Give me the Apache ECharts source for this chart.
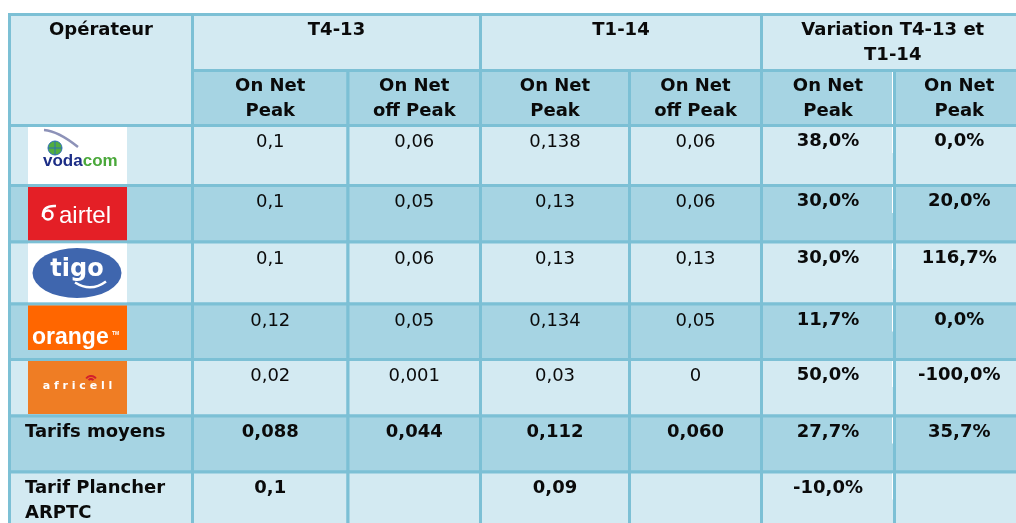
<!DOCTYPE html>
<html lang="fr">
<head>
<meta charset="UTF-8">
<title>tarifs_on_net</title>
<script src="https://cdn.jsdelivr.net/npm/echarts@6/dist/echarts.min.js"></script>
<style>
    html,body{margin:0;padding:0;background:#fff}
    #main{width:1016px;height:523px}
</style>
</head>
<body>
<div id="main"></div>
<script>
// données du tableau
var operateurs = ['vodacom', 'airtel', 'tigo', 'orange', 'africell'];
var groupes = ['T4-13', 'T1-14', 'Variation T4-13 et\nT1-14'];
var sousTitres = ['On Net\nPeak', 'On Net\noff Peak', 'On Net\nPeak', 'On Net\noff Peak', 'On Net\nPeak', 'On Net\nPeak'];
var t413_peak = [0.1, 0.1, 0.1, 0.12, 0.02];
var t413_offpeak = [0.06, 0.05, 0.06, 0.05, 0.001];
var t114_peak = [0.138, 0.13, 0.13, 0.134, 0.03];
var t114_offpeak = [0.06, 0.06, 0.13, 0.05, 0];
var var_peak = [38.0, 30.0, 30.0, 11.7, 50.0];
var var_offpeak = [0.0, 20.0, 116.7, 0.0, -100.0];
var tarifs_moyens = [0.088, 0.044, 0.112, 0.060, 27.7, 35.7];
var plancher_arptc = [0.1, null, 0.09, null, -10.0, null];
var lignesBas = ['Tarifs moyens', 'Tarif Plancher\nARPTC'];

// mise en page (bords des colonnes / lignes, en px)
var colX = [9.5, 192.5, 348, 480.5, 629.5, 761.5, 894.5, 1024];
var rowY = [14.5, 70.5, 125.5, 185.5, 242, 304, 359.5, 416, 472, 530];
var CLAIR = '#d3eaf2', FONCE = '#a6d4e3', TRAIT = '#7cc0d5';
var POLICE = '"DejaVu Sans", Verdana, sans-serif';

function virgule(v) { return String(v).replace('.', ','); }
function pct(v) { return v.toFixed(1).replace('.', ',') + '%'; }

var cells = [];
cells.push({c0: 0, c1: 1, r0: 0, r1: 2, fill: CLAIR, text: 'Opérateur', bold: true});
groupes.forEach(function (g, i) {
    cells.push({c0: 1 + 2 * i, c1: 3 + 2 * i, r0: 0, r1: 1, fill: CLAIR, text: g, bold: true});
});
sousTitres.forEach(function (s, i) {
    cells.push({c0: 1 + i, c1: 2 + i, r0: 1, r1: 2, fill: FONCE, text: s, bold: true, trait: i === 4});
});
operateurs.forEach(function (op, i) {
    var f = i % 2 ? FONCE : CLAIR, r = 2 + i;
    var vals = [virgule(t413_peak[i]), virgule(t413_offpeak[i]), virgule(t114_peak[i]),
        virgule(t114_offpeak[i]), pct(var_peak[i]), pct(var_offpeak[i])];
    cells.push({c0: 0, c1: 1, r0: r, r1: r + 1, fill: f, logo: op});
    vals.forEach(function (v, j) {
        cells.push({c0: 1 + j, c1: 2 + j, r0: r, r1: r + 1, fill: f, text: v, bold: j >= 4, trait: j === 4});
    });
});
[tarifs_moyens, plancher_arptc].forEach(function (row, k) {
    var f = k ? CLAIR : FONCE, r = 7 + k;
    cells.push({c0: 0, c1: 1, r0: r, r1: r + 1, fill: f, text: lignesBas[k], bold: true, left: true});
    row.forEach(function (v, j) {
        var t = '';
        if (v !== null) t = j >= 4 ? pct(v) : (k === 0 ? v.toFixed(3).replace('.', ',') : virgule(v));
        cells.push({c0: 1 + j, c1: 2 + j, r0: r, r1: r + 1, fill: f, text: t, bold: true, trait: j === 4});
    });
});

function logo(nom, x, y, h) {
    var w = 99, els = [];
    if (nom === 'vodacom') {
        els.push({type: 'rect', shape: {x: x, y: y, width: w, height: h}, style: {fill: '#fff'}});
        els.push({type: 'bezierCurve', shape: {x1: x + 16, y1: y + 3, cpx1: x + 30, cpy1: y + 4, x2: x + 50, y2: y + 20},
            style: {stroke: '#8d92b8', lineWidth: 2.5, fill: null}});
        els.push({type: 'circle', shape: {cx: x + 27, cy: y + 21, r: 7}, style: {fill: '#52ad3f', stroke: '#2f6fb5', lineWidth: 1}});
        els.push({type: 'line', shape: {x1: x + 20, y1: y + 21, x2: x + 34, y2: y + 21}, style: {stroke: '#2f6fb5', lineWidth: 1}});
        els.push({type: 'line', shape: {x1: x + 27, y1: y + 14, x2: x + 27, y2: y + 28}, style: {stroke: '#2f6fb5', lineWidth: 1}});
        els.push({type: 'text', style: {text: '{a|voda}{b|com}', x: x + 15, y: y + 34, verticalAlign: 'middle',
            rich: {a: {fill: '#1c2d86', fontSize: 17, fontWeight: 'bold', fontFamily: '"Liberation Sans"'},
                b: {fill: '#4aa83a', fontSize: 17, fontWeight: 'bold', fontFamily: '"Liberation Sans"'}}}});
    } else if (nom === 'airtel') {
        els.push({type: 'rect', shape: {x: x, y: y, width: w, height: h}, style: {fill: '#e41f26'}});
        els.push({type: 'circle', shape: {cx: x + 20, cy: y + 28, r: 4.5}, style: {fill: null, stroke: '#fff', lineWidth: 2.5}});
        els.push({type: 'bezierCurve', shape: {x1: x + 15, y1: y + 30, cpx1: x + 14, cpy1: y + 18, x2: x + 28, y2: y + 19},
            style: {stroke: '#fff', lineWidth: 2.5, fill: null}});
        els.push({type: 'text', style: {text: 'airtel', x: x + 31, y: y + 29, verticalAlign: 'middle', fill: '#fff',
            font: '24px "Liberation Sans"'}});
    } else if (nom === 'tigo') {
        els.push({type: 'rect', shape: {x: x, y: y, width: w, height: h}, style: {fill: '#fff'}});
        els.push({type: 'circle', x: x + 49, y: y + 29.5, scaleY: 25 / 44.5, shape: {cx: 0, cy: 0, r: 44.5}, style: {fill: '#3f66ae'}});
        els.push({type: 'text', style: {text: 'tigo', x: x + 49, y: y + 26, align: 'center', verticalAlign: 'middle',
            fill: '#fff', font: 'bold 24px ' + POLICE}});
        els.push({type: 'bezierCurve', shape: {x1: x + 47, y1: y + 39, cpx1: x + 63, cpy1: y + 49, x2: x + 78, y2: y + 38},
            style: {stroke: '#fff', lineWidth: 2.5, fill: null}});
    } else if (nom === 'orange') {
        els.push({type: 'rect', shape: {x: x, y: y, width: w, height: 44.5}, style: {fill: '#ff6600'}});
        els.push({type: 'text', style: {text: 'orange', x: x + 4, y: y + 32, verticalAlign: 'middle', fill: '#fff',
            font: 'bold 23px "Liberation Sans"'}});
        els.push({type: 'text', style: {text: 'TM', x: x + 84, y: y + 28, verticalAlign: 'middle', fill: '#fff',
            font: 'bold 5px "Liberation Sans"'}});
    } else {
        els.push({type: 'rect', shape: {x: x, y: y, width: w, height: 53}, style: {fill: '#ef7d24'}});
        els.push({type: 'arc', shape: {cx: x + 63, cy: y + 21, r: 6, startAngle: Math.PI * 1.2, endAngle: Math.PI * 1.8},
            style: {stroke: '#d3202c', lineWidth: 2, fill: null}});
        els.push({type: 'arc', shape: {cx: x + 63, cy: y + 21, r: 3, startAngle: Math.PI * 1.2, endAngle: Math.PI * 1.8},
            style: {stroke: '#d3202c', lineWidth: 2, fill: null}});
        els.push({type: 'text', style: {text: 'a f r i c e l l', x: x + 49.5, y: y + 25.5, align: 'center', verticalAlign: 'middle',
            fill: '#fff', font: 'bold 11px ' + POLICE}});
    }
    return els;
}

var chart = echarts.init(document.getElementById('main'));
var option = {
    animation: false,
    grid: {left: 0, right: 0, top: 0, bottom: 0},
    xAxis: {type: 'value', min: 0, max: 1016, show: false},
    yAxis: {type: 'value', min: 0, max: 523, inverse: true, show: false},
    series: [{
        type: 'custom',
        coordinateSystem: 'cartesian2d',
        data: cells.map(function (c, i) { return [i, i]; }),
        renderItem: function (params, api) {
            var c = cells[params.dataIndex];
            var p0 = api.coord([colX[c.c0], rowY[c.r0]]);
            var p1 = api.coord([colX[c.c1], rowY[c.r1]]);
            var kids = [{
                type: 'rect',
                shape: {x: p0[0], y: p0[1], width: p1[0] - p0[0], height: p1[1] - p0[1]},
                style: {fill: c.fill, stroke: TRAIT, lineWidth: 3}
            }];
            if (c.logo) {
                kids = kids.concat(logo(c.logo, p0[0] + 18.5, p0[1] + 1.5, p1[1] - p0[1] - 3));
            }
            if (c.trait) {
                var hh = c.r0 === 1 ? p1[1] - p0[1] - 1.5 : 26;
                kids.push({type: 'rect', shape: {x: p1[0] - 2.5, y: p0[1] + 1.5, width: 1, height: hh}, style: {fill: '#fff'}});
            }
            if (c.text) {
                kids.push({
                    type: 'text',
                    style: {
                        text: c.text,
                        x: c.left ? p0[0] + 15.5 : (p0[0] + p1[0]) / 2,
                        y: p0[1] + (c.bold ? 3.5 : 4.5),
                        align: c.left ? 'left' : 'center',
                        verticalAlign: 'top',
                        lineHeight: 25,
                        fill: '#0a0a0a',
                        font: (c.bold ? 'bold ' : '') + '18px ' + POLICE
                    }
                });
            }
            return {type: 'group', children: kids};
        }
    }]
};
chart.setOption(option);
</script>
</body>
</html>
